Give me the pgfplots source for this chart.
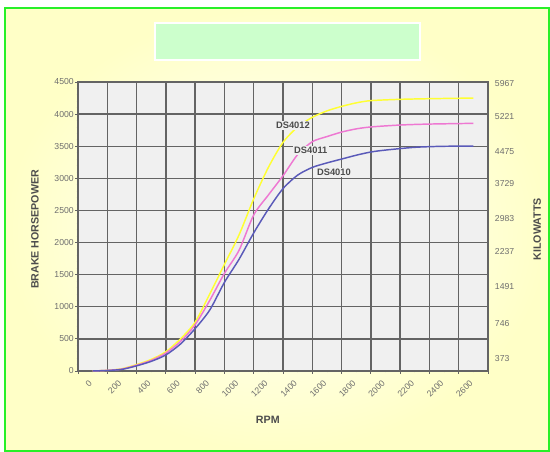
\documentclass[border=0pt]{standalone}
\usepackage{pgfplots}
\pgfplotsset{compat=1.18}
\usepackage{fontspec}
\setmainfont{Liberation Sans}
\definecolor{frameg}{RGB}{40,240,40}
\definecolor{titleg}{RGB}{204,255,204}
\definecolor{c4012}{RGB}{255,255,51}
\definecolor{c4011}{RGB}{238,120,210}
\definecolor{c4010}{RGB}{90,90,185}
\definecolor{plotbg}{RGB}{240,240,240}
\definecolor{gridc}{RGB}{100,100,100}
\definecolor{tickc}{RGB}{110,110,110}

\begin{document}
\begin{tikzpicture}[kw/.style={anchor=west, font=\fontsize{6.5}{7}\selectfont, text=tickc, inner sep=0pt, xshift=5pt}]
% page: 550 x 452 px at 0.75pt per px
\useasboundingbox (0,0) rectangle (412.5pt,339pt);
\fill[white] (0,0) rectangle (412.5pt,339pt);
\shade[inner color=white, outer color=yellow!22] (3.75pt,0.75pt) rectangle (411.75pt,333pt);
\draw[frameg, line width=0.8pt] (3.75pt,0.75pt) rectangle (411.75pt,333pt);
% empty title box
\filldraw[fill=titleg, draw=white, line width=0.8pt] (116.25pt,294pt) rectangle (315pt,321.75pt);

\begin{axis}[
    at={(58.5pt,60.75pt)}, anchor=south west,
    scale only axis, width=307.5pt, height=216.75pt,
    xmin=0, xmax=2800, ymin=0, ymax=4500,
    xtick={0,200,...,2800},
    xticklabels={0,200,400,600,800,1000,1200,1400,1600,1800,2000,2200,2400,2600,{}},
    ytick={0,500,...,4500},
    minor x tick num=1, minor y tick num=4,
    tick pos=left, tick align=center,
    major tick length=4pt, minor tick length=2pt,
    grid=major,
    grid style={gridc, line width=1pt},
    axis line style={gridc, line width=1pt},
    tick style={gridc, line width=0.6pt},
    axis background/.style={fill=plotbg},
    /pgf/number format/assume math mode=true,
    /pgf/number format/1000 sep={},
    ticklabel style={font=\fontsize{6.5}{7}\selectfont, text=tickc},
    xticklabel style={rotate=45, anchor=north east, inner sep=1pt, xshift=3.5pt, yshift=-7.5pt},
    yticklabel style={inner sep=1pt},
    xlabel={RPM},
    ylabel={BRAKE HORSEPOWER},
    label style={font=\bfseries\fontsize{8}{9}\selectfont, text=black!70},
    xlabel style={at={(rel axis cs:0.463,-0.17)}, anchor=center},
    ylabel style={at={(rel axis cs:-0.105,0.49)}, anchor=center, rotate=0},
    clip=false,
]
\addplot[c4012, line width=1.1pt, smooth, tension=0.45] coordinates {
 (100,0) (200,10) (300,35) (400,100) (500,180) (600,300) (700,500) (800,760)
 (900,1200) (1000,1660) (1100,2120) (1200,2680) (1300,3170) (1400,3560)
 (1500,3800) (1600,3950) (1700,4050) (1800,4120) (1900,4175) (2000,4210)
 (2200,4230) (2400,4240) (2700,4250)
};
\addplot[c4011, line width=1.1pt, smooth, tension=0.45] coordinates {
 (100,0) (200,10) (300,30) (400,90) (500,165) (600,280) (700,460) (800,720)
 (900,1100) (1000,1520) (1100,1880) (1200,2430) (1300,2740) (1400,3040)
 (1500,3370) (1600,3570) (1700,3650) (1800,3720) (1900,3770) (2000,3800)
 (2200,3830) (2400,3845) (2700,3856)
};
\addplot[c4010, line width=1.1pt, smooth, tension=0.45] coordinates {
 (100,0) (200,8) (300,25) (400,80) (500,150) (600,250) (700,420) (800,660)
 (900,950) (1000,1380) (1100,1740) (1200,2150) (1300,2520) (1400,2840)
 (1500,3050) (1600,3170) (1700,3240) (1800,3300) (1900,3360) (2000,3410)
 (2100,3440) (2300,3483) (2500,3499) (2700,3500)
};
\node[font=\bfseries\fontsize{7}{8}\selectfont, text=black!70, fill=plotbg, inner sep=1pt] at (axis cs:1468,3825) {DS4012};
\node[font=\bfseries\fontsize{7}{8}\selectfont, text=black!70, fill=plotbg, inner sep=1pt] at (axis cs:1590,3437) {DS4011};
\node[font=\bfseries\fontsize{7}{8}\selectfont, text=black!70, fill=plotbg, inner sep=1pt] at (axis cs:1748,3094) {DS4010};
% right-hand kilowatt scale
\node[kw] at (axis cs:2800,187) {373};
\node[kw] at (axis cs:2800,732) {746};
\node[kw] at (axis cs:2800,1323) {1491};
\node[kw] at (axis cs:2800,1853) {2237};
\node[kw] at (axis cs:2800,2367) {2983};
\node[kw] at (axis cs:2800,2912) {3729};
\node[kw] at (axis cs:2800,3410) {4475};
\node[kw] at (axis cs:2800,3970) {5221};
\node[kw] at (axis cs:2800,4469) {5967};
\node[rotate=90, font=\bfseries\fontsize{8}{9}\selectfont, text=black!70] at (rel axis cs:1.12,0.49) {KILOWATTS};
\end{axis}
\end{tikzpicture}
\end{document}
